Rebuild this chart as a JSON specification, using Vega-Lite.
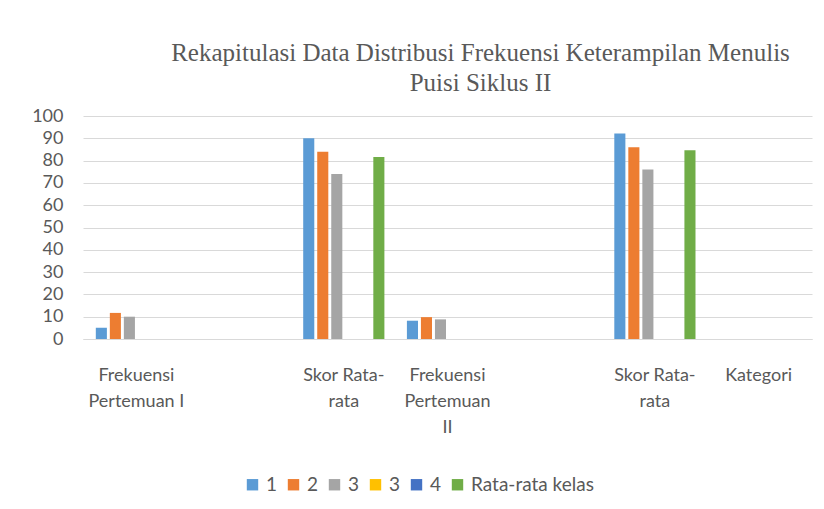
{
  "$schema": "https://vega.github.io/schema/vega-lite/v6.json",
  "width": 729,
  "height": 223,
  "autosize": {"type": "none"},
  "padding": {"left": 83, "top": 116, "right": 12, "bottom": 170},
  "background": "white",
  "title": {
    "text": ["Rekapitulasi Data Distribusi Frekuensi Keterampilan Menulis", "Puisi Siklus II"],
    "font": "Liberation Serif",
    "fontSize": 25,
    "fontWeight": "normal",
    "color": "#595959",
    "anchor": "middle",
    "dx": 33,
    "offset": 11,
    "lineHeight": 30
  },
  "data": {
    "values": [
      {"kategori": "Frekuensi Pertemuan I", "seri": "1", "nilai": 5},
      {"kategori": "Frekuensi Pertemuan I", "seri": "2", "nilai": 11.7},
      {"kategori": "Frekuensi Pertemuan I", "seri": "3", "nilai": 10},
      {"kategori": "Skor Rata-rata", "seri": "1", "nilai": 90},
      {"kategori": "Skor Rata-rata", "seri": "2", "nilai": 84},
      {"kategori": "Skor Rata-rata", "seri": "3", "nilai": 74},
      {"kategori": "Skor Rata-rata", "seri": "Rata-rata kelas", "nilai": 81.6},
      {"kategori": "Frekuensi Pertemuan II", "seri": "1", "nilai": 8.2},
      {"kategori": "Frekuensi Pertemuan II", "seri": "2", "nilai": 9.8},
      {"kategori": "Frekuensi Pertemuan II", "seri": "3", "nilai": 8.8},
      {"kategori": "Skor Rata-rata ", "seri": "1", "nilai": 92.2},
      {"kategori": "Skor Rata-rata ", "seri": "2", "nilai": 86},
      {"kategori": "Skor Rata-rata ", "seri": "3", "nilai": 76},
      {"kategori": "Skor Rata-rata ", "seri": "Rata-rata kelas", "nilai": 84.6}
    ]
  },
  "mark": {"type": "bar"},
  "encoding": {
    "x": {
      "field": "kategori",
      "type": "nominal",
      "sort": null,
      "scale": {
        "domain": ["Frekuensi Pertemuan I", " ", "Skor Rata-rata", "Frekuensi Pertemuan II", "  ", "Skor Rata-rata ", "Kategori"],
        "paddingInner": 0.19,
        "paddingOuter": 0.11
      },
      "axis": {
        "title": null,
        "labelAngle": 0,
        "ticks": false,
        "domainColor": "#D9D9D9",
        "domainWidth": 1,
        "labelFont": "Lato",
        "labelFontSize": 18,
        "labelColor": "#595959",
        "labelPadding": 27,
        "labelLineHeight": 26,
        "labelLimit": 300,
        "labelOverlap": false,
        "labelFlush": false,
        "labelExpr": "datum.value == 'Frekuensi Pertemuan I' ? ['Frekuensi', 'Pertemuan I'] : datum.value == 'Frekuensi Pertemuan II' ? ['Frekuensi', 'Pertemuan', 'II'] : indexof(datum.value, 'Skor') == 0 ? ['Skor Rata-', 'rata'] : datum.value"
      }
    },
    "xOffset": {
      "field": "seri",
      "type": "nominal",
      "scale": {
        "domain": ["1", "2", "3", "3 ", "4", "Rata-rata kelas"],
        "paddingInner": 0.21,
        "paddingOuter": 0.1
      }
    },
    "y": {
      "field": "nilai",
      "type": "quantitative",
      "scale": {"domain": [0, 100], "nice": false},
      "axis": {
        "title": null,
        "values": [0, 10, 20, 30, 40, 50, 60, 70, 80, 90, 100],
        "domain": false,
        "ticks": false,
        "gridColor": "#D9D9D9",
        "gridWidth": 1,
        "labelFont": "Lato",
        "labelFontSize": 18,
        "labelColor": "#595959",
        "labelPadding": 20
      }
    },
    "color": {
      "field": "seri",
      "type": "nominal",
      "scale": {
        "domain": ["1", "2", "3", "3 ", "4", "Rata-rata kelas"],
        "range": ["#5B9BD5", "#ED7D31", "#A5A5A5", "#FFC000", "#4472C4", "#70AD47"]
      },
      "legend": {
        "title": null,
        "orient": "none",
        "legendX": 160,
        "legendY": 359,
        "direction": "horizontal",
        "symbolType": "square",
        "symbolSize": 130,
        "symbolStrokeWidth": 0,
        "labelFont": "Lato",
        "labelFontSize": 19,
        "labelColor": "#595959",
        "labelOffset": 4,
        "columnPadding": 6
      }
    }
  },
  "config": {"view": {"stroke": null}}
}
